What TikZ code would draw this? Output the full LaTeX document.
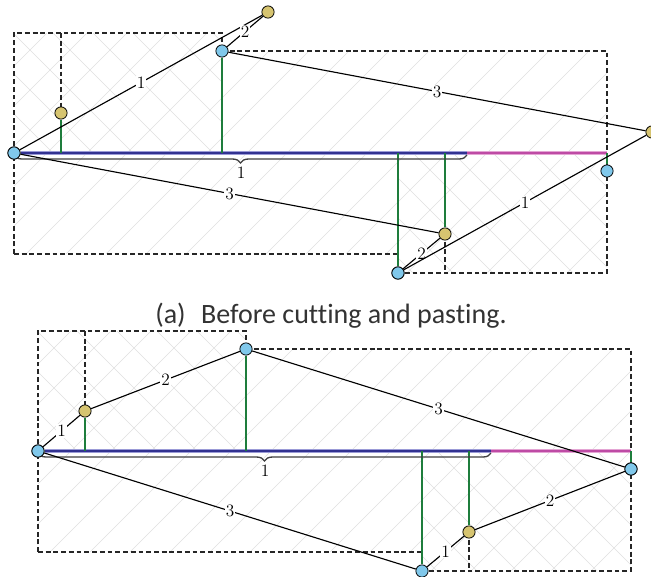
\documentclass[tikz,border=0pt]{standalone}
\usepackage{fontspec}
\newfontfamily\capfont[Ligatures=NoCommon]{Carlito}
\usetikzlibrary{decorations.pathreplacing}
\definecolor{ptblue}{RGB}{128,200,235}
\definecolor{ptyel}{RGB}{214,196,112}
\definecolor{grn}{RGB}{30,125,60}
\definecolor{bln}{RGB}{50,50,145}
\definecolor{blnl}{RGB}{155,155,215}
\definecolor{mag}{RGB}{190,75,165}
\definecolor{magl}{RGB}{228,165,212}
\definecolor{hat}{RGB}{224,224,224}
\tikzset{
  hatchline/.style={draw=hat, line width=0.45pt},
  dsh/.style={draw=black!85, line width=0.9pt, dash pattern=on 3.6pt off 2.2pt},
  bpt/.style={circle, draw=black, line width=0.6pt, fill=ptblue, inner sep=0pt, minimum size=9.2pt},
  ypt/.style={circle, draw=black, line width=0.6pt, fill=ptyel, inner sep=0pt, minimum size=9.2pt},
  seg/.style={draw=black, line width=0.85pt},
  grnline/.style={draw=grn, line width=1.4pt},
  lab/.style={font=\fontsize{13}{15}\selectfont, fill=white, inner sep=0.6pt},
  blab/.style={font=\fontsize{13}{15}\selectfont, inner sep=0.6pt},
  bracestyle/.style={draw=black!75, line width=1pt, decorate, decoration={brace, mirror, amplitude=6pt}}
}
% common parts of one panel, node names prefixed with #1
\newcommand\panelparts[1]{%
  \begin{scope}
    \clip (14,33) rectangle (222,153) (14,153) rectangle (398,254)
          (222,51) rectangle (607,153) (398,153) rectangle (607,273);
    \foreach \s in {0,40,...,1320} \draw[hatchline] (\s,0) -- ({\s-700},700);
  \end{scope}
  \begin{scope}
    \clip (14,33) rectangle (222,153) (398,153) rectangle (607,273);
    \foreach \s in {-700,-660,...,700} \draw[hatchline] (\s,0) -- ({\s+700},700);
  \end{scope}
  \draw[dsh] (14,254) -- (14,33) -- (222,33) -- (222,51);
  \draw[dsh] (61,33) -- (61,113);
  \draw[dsh] (14,254) -- (398,254);
  \draw[dsh] (222,51) -- (607,51) -- (607,273) -- (398,273);
  \draw[dsh] (445,234) -- (445,273);
  \node[bpt] (#1A) at (14,153) {};
  \node[ypt] (#1Y1) at (61,113) {};
  \node[bpt] (#1B) at (222,51) {};
  \node[bpt] (#1R) at (607,171) {};
  \node[bpt] (#1C) at (398,273) {};
  \node[ypt] (#1Y2) at (445,234) {};
  \coordinate (#1E) at (467,153);
  \coordinate (#1F) at (607,153);
  \draw[draw=blnl, line width=2.6pt] (#1A) -- (#1E);
  \draw[draw=bln, line width=1.2pt] (#1A) -- (#1E);
  \draw[draw=magl, line width=2.6pt] (#1E) -- (#1F);
  \draw[draw=mag, line width=1.2pt] (#1E) -- (#1F);
  \draw[grnline] (#1Y1) -- (#1Y1 |- #1A);
  \draw[grnline] (#1B) -- (#1B |- #1A);
  \draw[grnline] (#1C) -- (#1C |- #1A);
  \draw[grnline] (#1Y2) -- (#1Y2 |- #1A);
  \draw[grnline] (#1R) -- (#1F);
  \coordinate (#1b1) at (14,155);
  \coordinate (#1b2) at (467,155);
  \draw[bracestyle] (#1b1) -- (#1b2);
  \node[blab] (#1bl) at (241,173) {1};
}
\begin{document}
\begin{tikzpicture}[x=0.75pt, y=-0.75pt]
\useasboundingbox (0,0) rectangle (651,576);
\fill[white] (0,0) rectangle (651,576);

% panel (a)
\panelparts{a}
\node[ypt] (aYt) at (268,12) {};
\node[ypt] (aYr) at (652,132) {};
\draw[seg] (aA) -- node[lab] {1} (aYt);
\draw[seg] (aB) -- node[lab] {2} (aYt);
\draw[seg] (aB) -- node[lab] {3} (aYr);
\draw[seg] (aA) -- node[lab] {3} (aY2);
\draw[seg] (aC) -- node[lab] {2} (aY2);
\draw[seg] (aC) -- node[lab] {1} (aYr);
% redraw endpoints on top
\node[bpt] at (aA) {};
\node[bpt] at (aC) {};

\node[font=\capfont\fontsize{21}{25}\selectfont, text=black!80, anchor=base] (cap) at (331,323) {(a)\hspace{0.55em}Before cutting and pasting.};

% panel (b)
\begin{scope}[shift={(24,298)}]
\panelparts{b}
\draw[seg] (bA) -- node[lab] {1} (bY1);
\draw[seg] (bY1) -- node[lab] {2} (bB);
\draw[seg] (bB) -- node[lab] {3} (bR);
\draw[seg] (bA) -- node[lab] {3} (bC);
\draw[seg] (bC) -- node[lab] {1} (bY2);
\draw[seg] (bY2) -- node[lab] {2} (bR);
\node[bpt] at (bA) {};
\node[bpt] at (bR) {};
\end{scope}
\end{tikzpicture}
\end{document}
